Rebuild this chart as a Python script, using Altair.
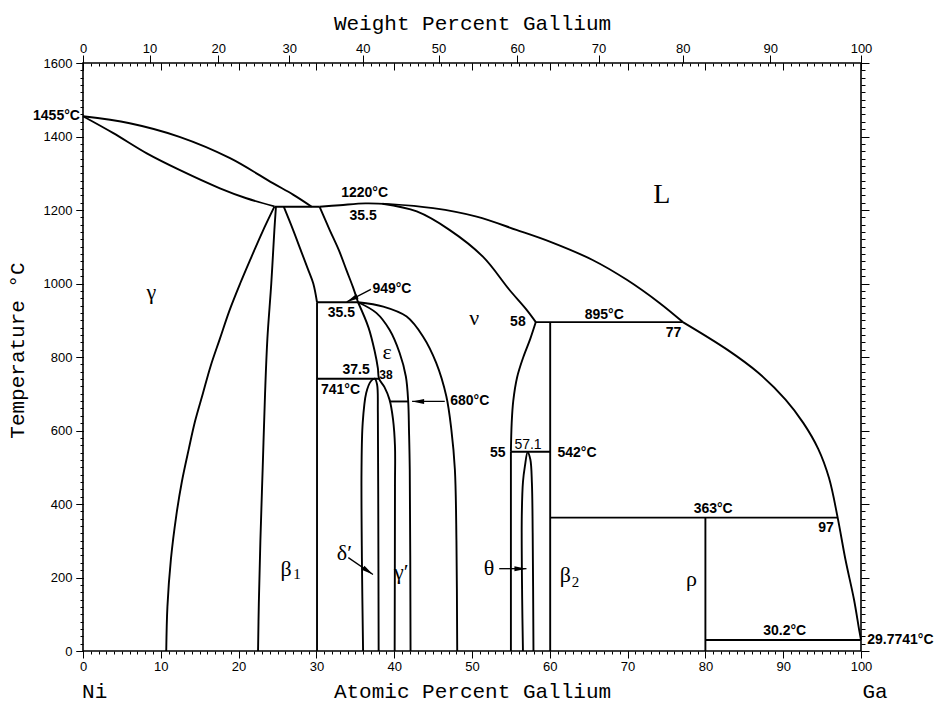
import math
import altair as alt
import pandas as pd

# ---------------- phase boundaries: (at.% Ga, temperature °C) ----------------
liquidus_ni = [(0, 1455), (6.0, 1436), (12.4, 1399), (18.9, 1341), (24.4, 1273), (27.0, 1242), (29.4, 1209)]
solidus_ni = [(0, 1455), (3.9, 1409), (8.2, 1354), (12.4, 1309), (17.6, 1259), (21.0, 1232), (24.6, 1210)]
peritectic_1209 = [(24.6, 1209), (30.4, 1209)]
liquidus_top = [(30.4, 1209), (33.0, 1213), (36.3, 1218), (39.4, 1216), (45.0, 1205), (50.6, 1182),
                (55.7, 1146), (60.0, 1114), (65.5, 1064), (69.9, 1010), (74.1, 947), (77.1, 895)]
liquidus_ga = [(77.1, 895), (82.8, 820), (86.8, 757), (90.3, 684), (92.6, 620), (94.5, 550),
               (95.9, 470), (97.0, 363), (98.0, 249), (99.1, 140), (99.75, 59), (100, 30)]
nu_solidus = [(38.5, 1217), (42.9, 1196), (47.1, 1146), (51.4, 1073), (54.8, 983), (57.0, 929), (58.2, 895)]
nu_right = [(58.2, 895), (57.5, 850), (56.6, 800), (55.8, 745), (55.3, 680), (55.1, 620), (55.0, 542)]
line_55 = [(55.0, 542), (55.0, 0)]
eutectoid_895 = [(58.2, 895), (77.1, 895)]
line_60 = [(60.05, 895), (60.05, 0)]
peritectoid_542 = [(55.0, 542), (60.05, 542)]
theta_dome = [(56.55, 0), (56.45, 140), (56.4, 367), (56.55, 460), (56.8, 503), (57.15, 541),
              (57.5, 521), (57.7, 457), (57.8, 322), (57.9, 0)]
line_363 = [(60.05, 363), (97.0, 363)]
line_80 = [(80.0, 363), (80.0, 0)]
line_30 = [(80.0, 30), (100, 30)]
gamma_solvus = [(24.6, 1209), (23.05, 1140), (21.5, 1065), (20.2, 1000), (18.8, 925), (17.6, 850),
                (16.4, 775), (15.4, 700), (14.4, 625), (13.6, 550), (12.7, 460), (12.0, 370),
                (11.3, 250), (10.85, 120), (10.7, 0)]
beta1_left = [(24.8, 1209), (24.6, 1146), (24.2, 1000), (23.7, 850), (23.4, 700), (23.1, 500),
              (22.8, 300), (22.6, 130), (22.5, 0)]
beta1_right = [(25.8, 1209), (27.0, 1146), (28.0, 1090), (28.9, 1040), (29.6, 1000), (30.08, 949)]
line_30at = [(30.08, 949), (30.08, 0)]
beta_right = [(30.4, 1209), (31.7, 1146), (32.9, 1090), (33.85, 1037), (34.7, 990), (35.35, 949)]
line_949 = [(30.08, 949), (35.35, 949)]
eps_left = [(35.35, 949), (36.7, 880), (37.5, 815), (37.9, 770), (38.05, 741), (38.75, 718),
            (39.4, 684), (39.85, 630), (40.1, 557), (40.1, 450), (40.06, 0)]
line_741 = [(30.08, 741), (38.05, 741)]
delta_dome = [(36.0, 0), (35.85, 250), (35.8, 494), (35.95, 620), (36.4, 702), (37.0, 734),
              (37.5, 741), (37.8, 725), (37.9, 648), (37.95, 400), (38.0, 0)]
gp_right = [(35.35, 949), (37.7, 920), (39.4, 874), (40.7, 811), (41.5, 747), (41.8, 679),
            (41.9, 602), (42.0, 494), (42.1, 0)]
line_680 = [(39.45, 679), (41.8, 679)]
outer = [(35.35, 949), (38.6, 937), (41.6, 910), (43.7, 856), (45.4, 784), (46.7, 693),
         (47.35, 602), (47.8, 494), (48.0, 300), (48.1, 0)]

boundaries = {
    "liquidus_ni": liquidus_ni, "solidus_ni": solidus_ni, "p1209": peritectic_1209,
    "liq_top": liquidus_top, "liq_ga": liquidus_ga,
    "nu_sol": nu_solidus, "nu_right": nu_right, "l55": line_55, "h895": eutectoid_895,
    "l60": line_60, "h542": peritectoid_542, "theta": theta_dome, "h363": line_363,
    "l80": line_80, "h30": line_30, "gsolv": gamma_solvus, "b1l": beta1_left,
    "b1r": beta1_right, "l30": line_30at, "br": beta_right, "h949": line_949,
    "epsl": eps_left, "h741": line_741, "delta": delta_dome, "gpr": gp_right,
    "h680": line_680, "outer": outer,
}

# arrows: (tail x, tail T, tip x, tip T)
arrows = [(37.0, 984, 33.9, 950), (46.5, 679, 42.3, 679), (34.1, 254, 37.27, 208), (53.5, 224, 57.0, 224)]

# labels
bold_center = [("1220°C", 36.2, 1246), ("35.5", 36.0, 1184), ("35.5", 33.2, 919), ("37.5", 35.1, 764),
               ("741°C", 33.1, 711), ("58", 55.9, 894), ("895°C", 67.0, 915), ("77", 75.9, 864),
               ("55", 53.3, 540), ("542°C", 63.5, 540), ("363°C", 81.0, 386), ("97", 95.5, 334),
               ("30.2°C", 90.2, 54)]
bold_small = [("38", 38.95, 750)]
bold_left = [("949°C", 37.2, 985), ("680°C", 47.2, 679), ("29.7741°C", 100.8, 30)]
bold_right = [("1455°C", -0.4, 1455)]
regular_center = [("57.1", 57.2, 561)]
greek = [("γ", 8.8, 977), ("ν", 50.3, 906), ("ε", 39.1, 814), ("β", 26.1, 224), ("δ′", 33.6, 268),
         ("γ′", 40.9, 215), ("θ", 52.2, 227), ("β", 62.0, 208), ("ρ", 78.2, 195)]
big_letter = [("L", 74.4, 1240)]
subscripts = [("1", 27.5, 209), ("2", 63.3, 188)]
elements = [("Ni", 1.5, -112), ("Ga", 101.8, -112)]

wt_ticks = list(range(0, 101, 10))
at_major = list(range(0, 101, 10))
at_minor = list(range(0, 101, 1))
t_major = list(range(0, 1601, 200))
t_minor = list(range(0, 1601, 20))

M_NI, M_GA = 58.693, 69.723

W, H = 778, 588


def wt_to_at(w):
    a = w / M_GA
    b = (100 - w) / M_NI
    return round(100 * a / (a + b), 6)


top_positions = [wt_to_at(w) for w in wt_ticks]

# ---------------- build tables ----------------
rows = []
for name, pts in boundaries.items():
    for i, (x, t) in enumerate(pts):
        rows.append({"seg": name, "i": i, "x": x, "t": t})
lines_df = pd.DataFrame(rows)

arow = []
heads = []
for k, (x0, t0, x1, t1) in enumerate(arrows):
    arow.append({"seg": f"a{k}", "i": 0, "x": x0, "t": t0})
    arow.append({"seg": f"a{k}", "i": 1, "x": x1, "t": t1})
    dx = (x1 - x0) * W / 100.0
    dy = -(t1 - t0) * H / 1600.0
    ang = math.degrees(math.atan2(dx, -dy)) % 360
    heads.append({"x": x1, "t": t1, "ang": ang})
arrow_df = pd.DataFrame(arow)
head_df = pd.DataFrame(heads)


def tdf(items):
    return pd.DataFrame([{"label": s, "x": x, "t": t} for s, x, t in items])


xs = alt.Scale(domain=[0, 100], nice=False, zero=False)
ys = alt.Scale(domain=[0, 1600], nice=False, zero=False)
dummy = pd.DataFrame({"x": [0], "t": [0]})


def axis_layer(xaxis, yaxis):
    return alt.Chart(dummy).mark_point(opacity=0).encode(
        x=alt.X("x:Q", scale=xs, axis=xaxis),
        y=alt.Y("t:Q", scale=ys, axis=yaxis),
    )


label_expr = ("format(round(100*datum.value*69.723/(datum.value*69.723+(100-datum.value)*58.693)),'d')")

ax1 = axis_layer(
    alt.Axis(orient="bottom", values=at_major, tickSize=7, labelPadding=2, format="d", labelFlush=False,
             title="Atomic Percent Gallium", titleX=W / 2, titleY=40, titleBaseline="middle"),
    alt.Axis(orient="left", values=t_major, tickSize=7, labelPadding=4, format="d", labelFlush=False,
             title="Temperature °C", titleX=-66, titleY=287, titleBaseline="middle"),
)
ax2 = axis_layer(
    alt.Axis(orient="bottom", values=at_minor, tickSize=3, labels=False, title=None),
    alt.Axis(orient="left", values=t_minor, tickSize=3, labels=False, title=None),
)
ax3 = axis_layer(
    alt.Axis(orient="top", values=top_positions, tickSize=8, labelPadding=0, labelExpr=label_expr,
             labelFlush=False, labelOverlap=False,
             title="Weight Percent Gallium", titleX=W / 2, titleY=-40, titleBaseline="middle"),
    alt.Axis(orient="right", values=t_major, tickSize=8, labels=False, title=None),
)
ax4 = axis_layer(
    alt.Axis(orient="bottom", offset=-H, values=at_major, tickSize=7, labels=False, title=None),
    alt.Axis(orient="right", values=t_minor, tickSize=4, labels=False, title=None),
)
ax5 = axis_layer(
    alt.Axis(orient="bottom", offset=-H, values=at_minor, tickSize=3, labels=False, title=None),
    alt.Axis(orient="left", values=t_major, tickSize=7, labels=False, title=None),
)

enc = dict(
    x=alt.X("x:Q", scale=xs, axis=None),
    y=alt.Y("t:Q", scale=ys, axis=None),
)

lines = alt.Chart(lines_df).mark_line(color="black", strokeWidth=1.9, interpolate="catmull-rom").encode(
    detail="seg:N", order="i:Q", **enc)

arrow_lines = alt.Chart(arrow_df).mark_line(color="black", strokeWidth=1.3).encode(
    detail="seg:N", order="i:Q", **enc)

arrow_heads = alt.Chart(head_df).mark_point(
    shape="M0,0L-0.42,2L0.42,2Z", filled=True, size=144, color="black", opacity=1, strokeWidth=0.5
).encode(angle=alt.Angle("ang:Q", scale=None), **enc)

SANS = "Liberation Sans, Arial, sans-serif"
SERIF = "Liberation Serif, DejaVu Serif, serif"
MONO = "Liberation Mono, Courier New, monospace"


def text_layer(items, **kw):
    return alt.Chart(tdf(items)).mark_text(color="black", baseline="middle", **kw).encode(
        text="label:N", **enc)


t1 = text_layer(bold_center, font=SANS, fontSize=14, fontWeight="bold", align="center")
t2 = text_layer(bold_small, font=SANS, fontSize=12, fontWeight="bold", align="center")
t3 = text_layer(bold_left, font=SANS, fontSize=14, fontWeight="bold", align="left")
t4 = text_layer(bold_right, font=SANS, fontSize=14, fontWeight="bold", align="right")
t5 = text_layer(regular_center, font=SANS, fontSize=14, align="center")
t6 = text_layer(greek, font=SERIF, fontSize=22, align="center")
t7 = text_layer(big_letter, font=SERIF, fontSize=28, align="center")
t8 = text_layer(subscripts, font=SERIF, fontSize=15, align="center")
t9 = text_layer(elements, font=MONO, fontSize=21, align="center")

chart = alt.layer(
    ax1, ax2, ax3, ax4, ax5, lines, arrow_lines, arrow_heads, t1, t2, t3, t4, t5, t6, t7, t8, t9
).resolve_axis(
    x="independent", y="independent"
).properties(
    width=W, height=H,
    autosize=alt.AutoSizeParams(type="none"),
    padding={"left": 83, "top": 63, "right": 81, "bottom": 53},
    background="white",
).configure_view(
    stroke="black", strokeWidth=1.6
).configure_axis(
    domain=False, grid=False, tickColor="black", tickWidth=1,
    labelColor="black", labelFont=SANS, labelFontSize=13,
    titleFont=MONO, titleFontSize=21, titleFontWeight="normal", titleColor="black",
)

chart.save("out.html", embed_options={"renderer": "svg", "actions": False})
